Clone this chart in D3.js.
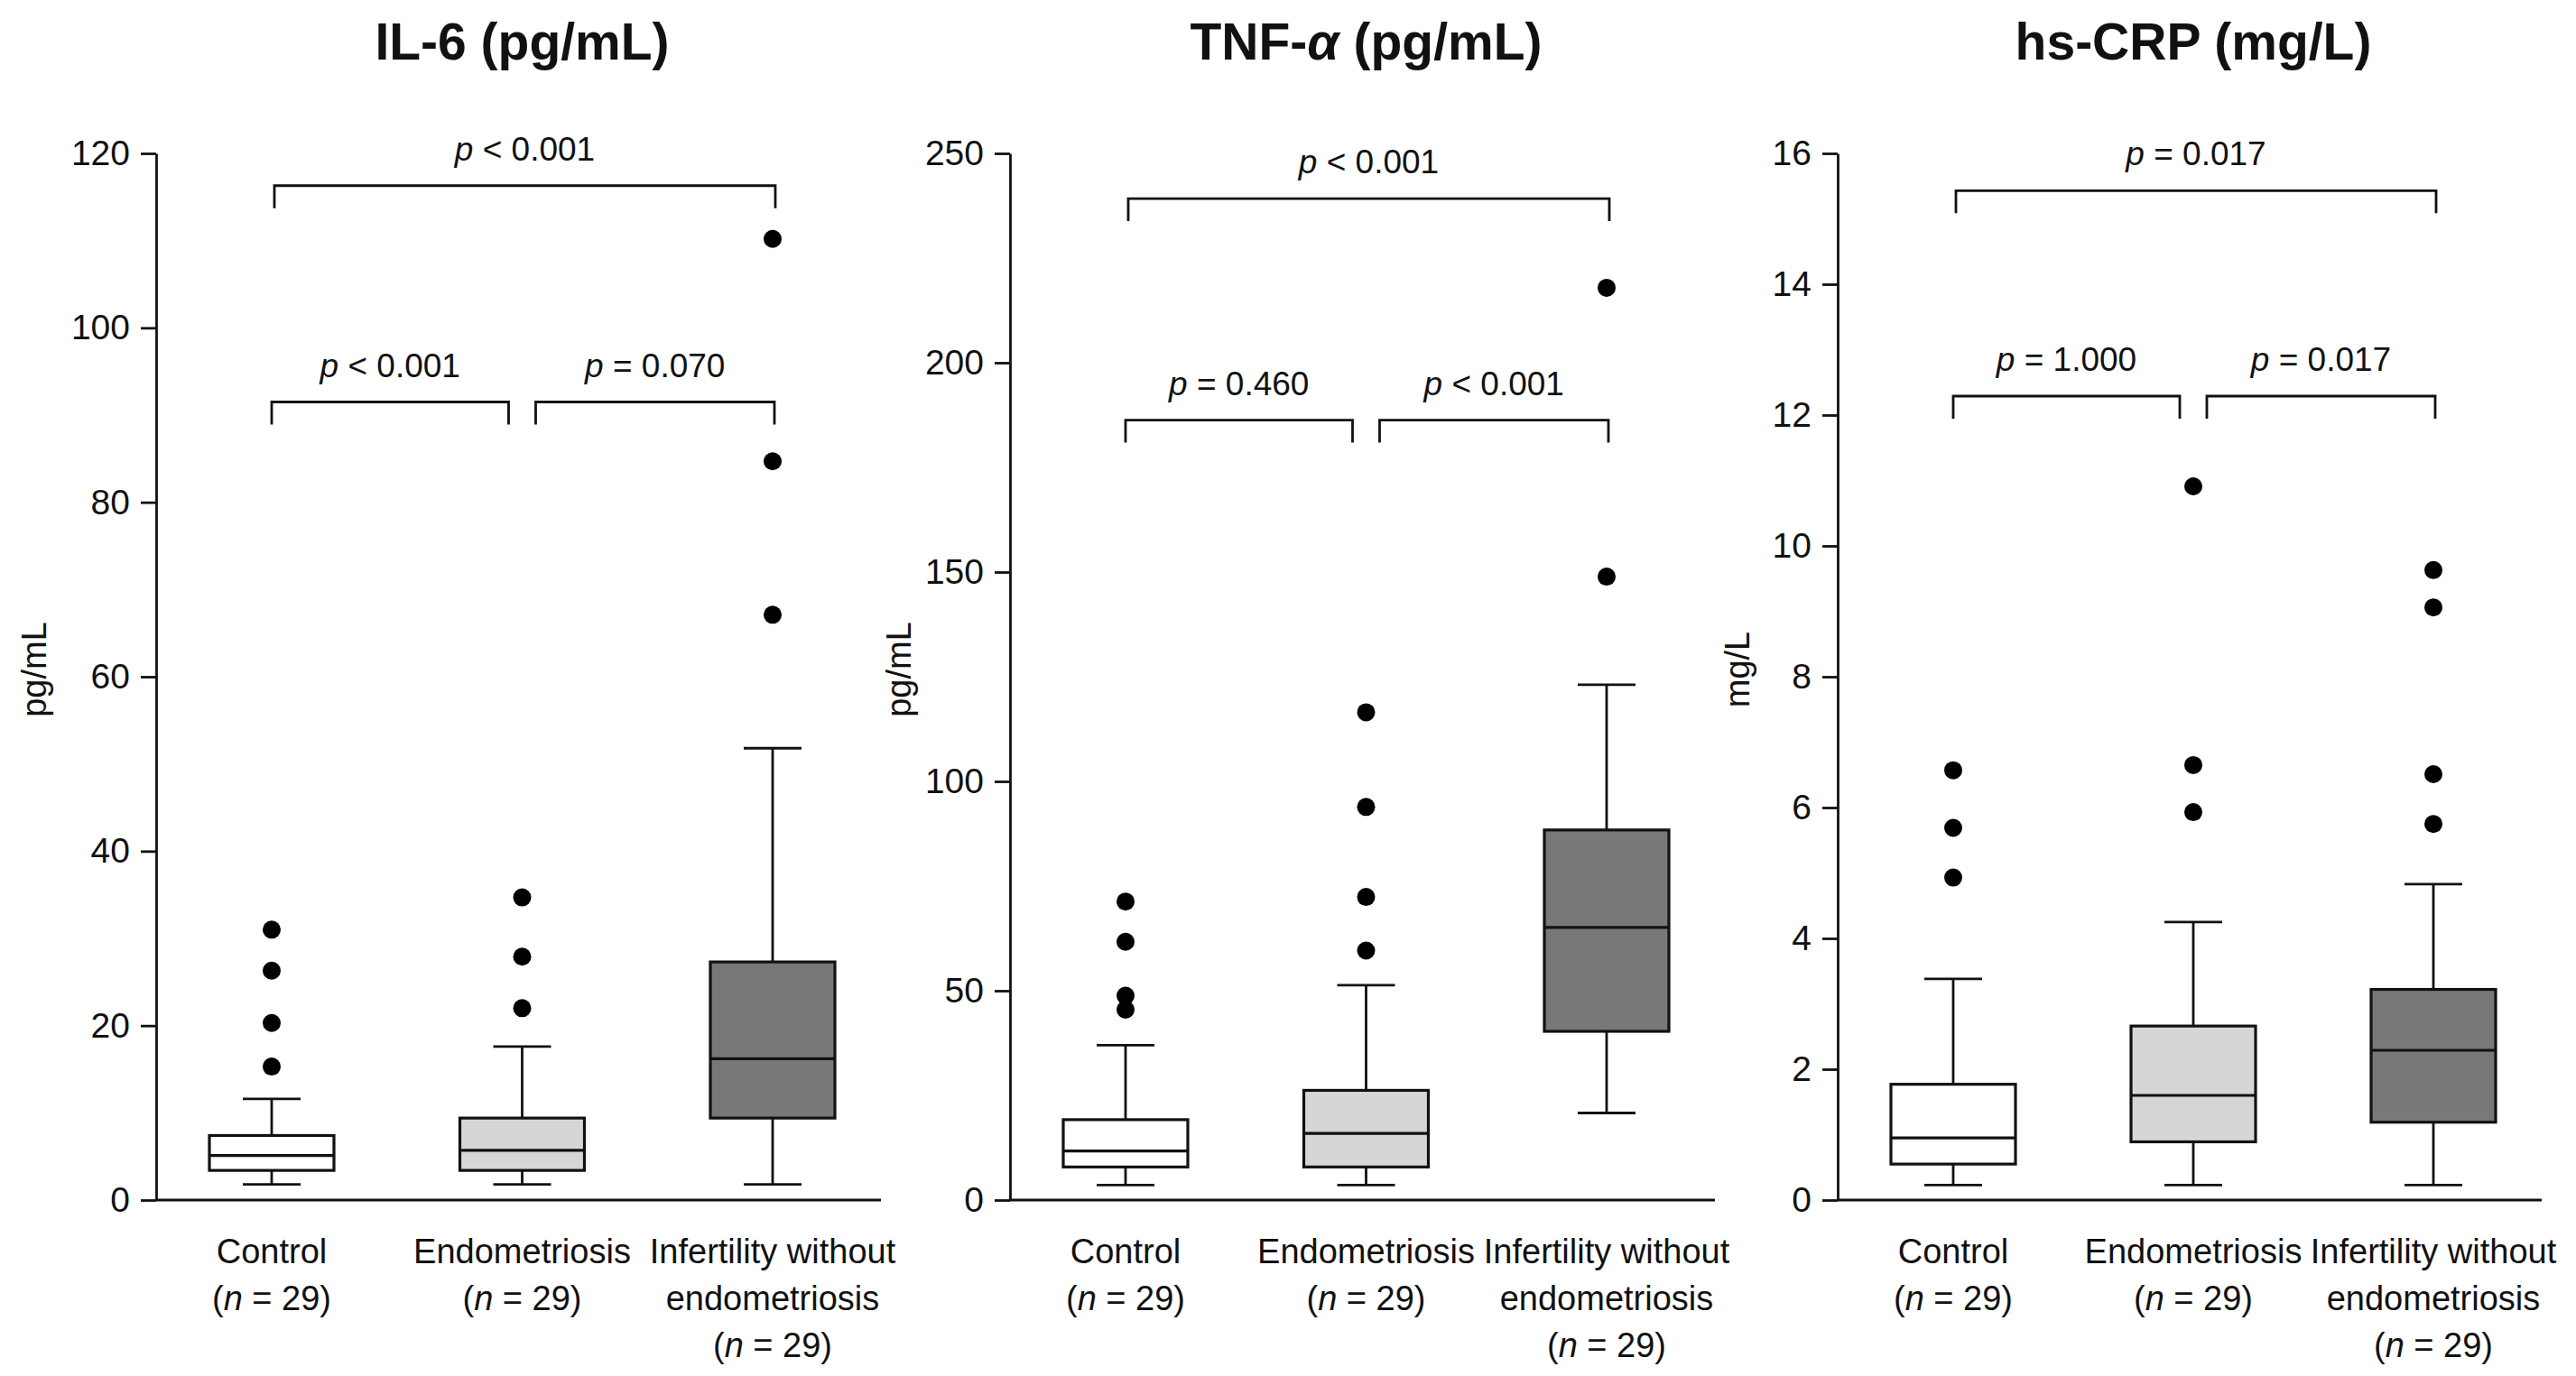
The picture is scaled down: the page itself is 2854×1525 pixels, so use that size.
<!DOCTYPE html>
<html><head><meta charset="utf-8">
<style>
    body {
        margin: 0;
        background: #ffffff;
        font-family: "Liberation Sans", Arial, Helvetica, sans-serif;
    }
    svg { display: block; }
</style>
</head>
<body>
<svg id="chart"></svg>
<script src="https://cdn.jsdelivr.net/npm/d3@7"></script>
<script>
// groups and labels
const groups = ["Control", "Endometriosis", "Infertility without endometriosis"];
const groupLines = [["Control"], ["Endometriosis"], ["Infertility without", "endometriosis"]];
const groupN = [29, 29, 29];

// box stats: [low whisker, q1, median, q3, high whisker]
const il6Box = [[1.8, 3.4, 5.1, 7.4, 11.6], [1.8, 3.4, 5.7, 9.4, 17.6], [1.8, 9.4, 16.2, 27.3, 51.8]];
const il6Outliers = [[15.3, 20.3, 26.3, 31.0], [22.0, 27.9, 34.7], [67.1, 84.7, 110.2]];
const il6Ticks = [0, 20, 40, 60, 80, 100, 120];
const il6P = ["< 0.001", "< 0.001", "= 0.070"]; // top, left, right

const tnfBox = [[3.6, 7.9, 11.7, 19.2, 37.0], [3.6, 7.9, 15.9, 26.2, 51.3], [20.8, 40.3, 65.1, 88.4, 123.1]];
const tnfOutliers = [[45.5, 48.8, 61.7, 71.3], [59.6, 72.4, 93.9, 116.5], [148.9, 217.9]];
const tnfTicks = [0, 50, 100, 150, 200, 250];
const tnfP = ["< 0.001", "= 0.460", "< 0.001"];

const crpBox = [[0.23, 0.55, 0.95, 1.77, 3.38], [0.23, 0.89, 1.60, 2.66, 4.25], [0.23, 1.19, 2.29, 3.22, 4.83]];
const crpOutliers = [[4.93, 5.69, 6.57], [5.93, 6.65, 10.91], [5.75, 6.51, 9.06, 9.63]];
const crpTicks = [0, 2, 4, 6, 8, 10, 12, 14, 16];
const crpP = ["= 0.017", "= 1.000", "= 0.017"];

const fills = ["#ffffff", "#d6d6d6", "#787878"];

let width = 2854;
let height = 1525;
let plotTop = 170, plotBottom = 1330;

let panels = [
    {title: ["IL-6 (pg/mL)"], unit: "pg/mL", box: il6Box, out: il6Outliers, ticks: il6Ticks, p: il6P,
     left: 173, right: 976, unitX: 38, bracket: [116.3, 91.5]},
    {title: ["TNF-", "α", " (pg/mL)"], unit: "pg/mL", box: tnfBox, out: tnfOutliers, ticks: tnfTicks, p: tnfP,
     left: 1119, right: 1900, unitX: 996, bracket: [239.2, 186.3]},
    {title: ["hs-CRP (mg/L)"], unit: "mg/L", box: crpBox, out: crpOutliers, ticks: crpTicks, p: crpP,
     left: 2036, right: 2816, unitX: 1925, bracket: [15.43, 12.29]}
];

let svg = d3.select("#chart").attr("width", width).attr("height", height);

function pText(sel, x, y, txt) {
    let t = sel.append("text")
        .attr("x", x).attr("y", y)
        .attr("text-anchor", "middle")
        .style("font-size", "37px")
        .attr("fill", "#111");
    t.append("tspan").style("font-style", "italic").text("p");
    t.append("tspan").text(" " + txt);
}

function drawPanel(cfg) {
    let g = svg.append("g");
    let maxTick = d3.max(cfg.ticks);

    let x = d3.scalePoint()
        .domain(groups)
        .range([cfg.left + 128, cfg.right - 120]);
    let y = d3.scaleLinear()
        .domain([0, maxTick])
        .range([plotBottom, plotTop]);

    let boxW = 138, capW = 64;

    // y axis
    let yAxis = g.append("g")
        .attr("transform", `translate(${cfg.left},0)`)
        .call(d3.axisLeft(y).tickValues(cfg.ticks).tickSize(17).tickSizeOuter(0).tickPadding(12));
    yAxis.select(".domain").attr("stroke", "#111").attr("stroke-width", 2.8);
    yAxis.selectAll(".tick line").attr("stroke", "#111").attr("stroke-width", 2.8);
    yAxis.selectAll(".tick text")
        .style("font-size", "39px")
        .style("font-family", "'Liberation Sans', Arial, sans-serif")
        .attr("fill", "#111");

    // x axis line
    g.append("line")
        .attr("x1", cfg.left).attr("x2", cfg.right)
        .attr("y1", y(0)).attr("y2", y(0))
        .attr("stroke", "#111").attr("stroke-width", 2.8);

    // unit label
    g.append("text")
        .attr("transform", `translate(${cfg.unitX},${(plotTop + plotBottom) / 2 - 8}) rotate(-90)`)
        .attr("text-anchor", "middle")
        .attr("dominant-baseline", "central")
        .style("font-size", "38px")
        .attr("fill", "#111")
        .text(cfg.unit);

    // title
    let title = g.append("text")
        .attr("x", x(groups[1]))
        .attr("y", 66)
        .attr("text-anchor", "middle")
        .style("font-size", "57px")
        .style("font-weight", "bold")
        .attr("fill", "#111");
    cfg.title.forEach(part => {
        let ts = title.append("tspan").text(part);
        if (part === "α") ts.style("font-style", "italic");
    });

    // boxes
    groups.forEach((grp, i) => {
        let s = cfg.box[i];
        let cx = x(grp);
        let bg = g.append("g");

        bg.append("line")
            .attr("x1", cx).attr("x2", cx)
            .attr("y1", y(s[0])).attr("y2", y(s[1]))
            .attr("stroke", "#111").attr("stroke-width", 2.8);
        bg.append("line")
            .attr("x1", cx).attr("x2", cx)
            .attr("y1", y(s[3])).attr("y2", y(s[4]))
            .attr("stroke", "#111").attr("stroke-width", 2.8);
        [s[0], s[4]].forEach(v => {
            bg.append("line")
                .attr("x1", cx - capW / 2).attr("x2", cx + capW / 2)
                .attr("y1", y(v)).attr("y2", y(v))
                .attr("stroke", "#111").attr("stroke-width", 2.8);
        });
        bg.append("rect")
            .attr("x", cx - boxW / 2)
            .attr("y", y(s[3]))
            .attr("width", boxW)
            .attr("height", y(s[1]) - y(s[3]))
            .attr("fill", fills[i])
            .attr("stroke", "#111").attr("stroke-width", 3.2);
        bg.append("line")
            .attr("x1", cx - boxW / 2).attr("x2", cx + boxW / 2)
            .attr("y1", y(s[2])).attr("y2", y(s[2]))
            .attr("stroke", "#111").attr("stroke-width", 3.2);

        bg.selectAll("circle")
            .data(cfg.out[i])
            .enter()
            .append("circle")
            .attr("cx", cx)
            .attr("cy", d => y(d))
            .attr("r", 10)
            .attr("fill", "#000");

        // category label
        let lines = groupLines[i];
        lines.forEach((ln, k) => {
            g.append("text")
                .attr("x", cx).attr("y", 1400 + k * 52)
                .attr("text-anchor", "middle")
                .style("font-size", "38px")
                .attr("fill", "#111")
                .text(ln);
        });
        let nt = g.append("text")
            .attr("x", cx).attr("y", 1400 + lines.length * 52)
            .attr("text-anchor", "middle")
            .style("font-size", "38px")
            .attr("fill", "#111");
        nt.append("tspan").text("(");
        nt.append("tspan").style("font-style", "italic").text("n");
        nt.append("tspan").text(" = " + groupN[i] + ")");
    });

    // significance brackets
    let tick = 25;
    let c0 = x(groups[0]), c1 = x(groups[1]), c2 = x(groups[2]);
    let spans = [[c0 + 3, c2 + 3, cfg.bracket[0]], [c0, c1 - 15, cfg.bracket[1]], [c1 + 15, c2 + 2, cfg.bracket[1]]];
    spans.forEach((sp, k) => {
        let yb = y(sp[2]);
        g.append("path")
            .attr("d", `M${sp[0]},${yb + tick}V${yb}H${sp[1]}V${yb + tick}`)
            .attr("fill", "none")
            .attr("stroke", "#111").attr("stroke-width", 2.8);
        pText(g, (sp[0] + sp[1]) / 2, yb - 28, cfg.p[k]);
    });
}

panels.forEach(drawPanel);
</script>
</body>
</html>
